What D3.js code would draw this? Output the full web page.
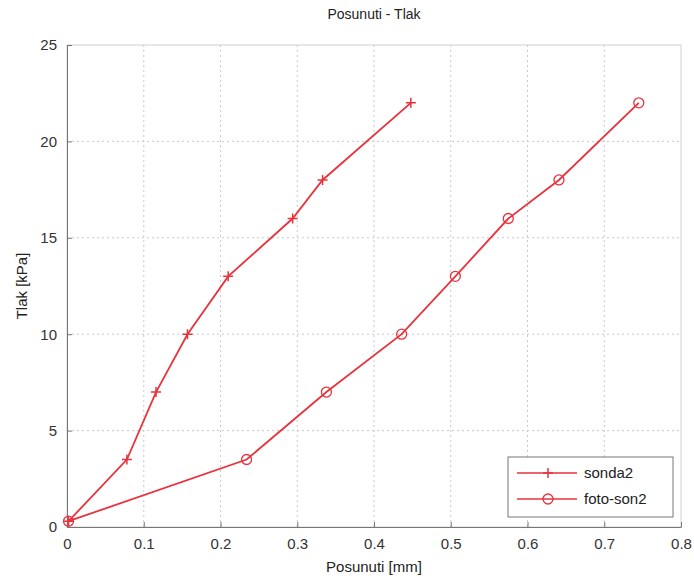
<!DOCTYPE html>
<html>
<head>
<meta charset="utf-8">
<script src="https://cdn.jsdelivr.net/npm/d3@7"></script>
<style>
  body { margin: 0; background: #fff; }
  svg { display: block; font-family: "Liberation Sans", Arial, sans-serif; }
</style>
</head>
<body>
<div id="chart"></div>
<script>
// Data
const pressure = [0.3, 3.5, 7, 10, 13, 16, 18, 22];
const sonda2 = [0.002, 0.078, 0.116, 0.157, 0.210, 0.294, 0.333, 0.448];
const fotoSon2 = [0.002, 0.234, 0.338, 0.436, 0.506, 0.575, 0.641, 0.745];
const xTicks = [0, 0.1, 0.2, 0.3, 0.4, 0.5, 0.6, 0.7, 0.8];
const yTicks = [0, 5, 10, 15, 20, 25];

const W = 694, H = 576;
const margin = {top: 45, right: 13, bottom: 49, left: 67};
const width = W - margin.left - margin.right;
const height = H - margin.top - margin.bottom;
const red = "#e8323c";

const svg = d3.select("#chart").append("svg")
    .attr("width", W)
    .attr("height", H);

const g = svg.append("g")
    .attr("transform", `translate(${margin.left},${margin.top})`);

const x = d3.scaleLinear().domain([0, 0.8]).range([0, width]);
const y = d3.scaleLinear().domain([0, 25]).range([height, 0]);

// Grid
g.append("g")
    .selectAll("line")
    .data(xTicks.slice(1, -1))
    .enter().append("line")
    .attr("x1", d => x(d)).attr("x2", d => x(d))
    .attr("y1", 0).attr("y2", height)
    .attr("stroke", "#c8c8c8")
    .attr("stroke-dasharray", "2,3");

g.append("g")
    .selectAll("line")
    .data(yTicks.slice(1, -1))
    .enter().append("line")
    .attr("x1", 0).attr("x2", width)
    .attr("y1", d => y(d)).attr("y2", d => y(d))
    .attr("stroke", "#c8c8c8")
    .attr("stroke-dasharray", "2,3");

// Frame
g.append("rect")
    .attr("width", width)
    .attr("height", height)
    .attr("fill", "none")
    .attr("stroke", "#d0d0d0");

// Axes
const xAxis = g.append("g")
    .attr("transform", `translate(0,${height})`)
    .call(d3.axisBottom(x).tickValues(xTicks).tickSizeInner(-5).tickSizeOuter(0)
        .tickFormat(d => d === 0 ? "0" : d3.format(".1f")(d)).tickPadding(11));

const yAxis = g.append("g")
    .call(d3.axisLeft(y).tickValues(yTicks).tickSizeInner(-5).tickSizeOuter(0).tickPadding(10));

[xAxis, yAxis].forEach(a => {
    a.select(".domain").attr("stroke", "#777");
    a.selectAll(".tick line").attr("stroke", "#777");
    a.selectAll("text").attr("fill", "#333").style("font-size", "15px");
});

// Lines
const series = [
    {name: "sonda2", xs: sonda2, marker: "plus"},
    {name: "foto-son2", xs: fotoSon2, marker: "circle"}
];

const line = d3.line()
    .x(d => x(d[0]))
    .y(d => y(d[1]));

function drawMarker(sel, type, cx, cy) {
    if (type === "plus") {
        sel.append("path")
            .attr("d", `M${cx - 5},${cy}H${cx + 5}M${cx},${cy - 5}V${cy + 5}`)
            .attr("stroke", red)
            .attr("stroke-width", 1.5)
            .attr("fill", "none");
    } else {
        sel.append("circle")
            .attr("cx", cx).attr("cy", cy).attr("r", 5)
            .attr("stroke", red)
            .attr("stroke-width", 1.3)
            .attr("fill", "none");
    }
}

series.forEach(s => {
    const pts = s.xs.map((v, i) => [v, pressure[i]]);
    g.append("path")
        .datum(pts)
        .attr("fill", "none")
        .attr("stroke", red)
        .attr("stroke-width", 1.8)
        .attr("d", line);
    const mg = g.append("g");
    pts.forEach(p => drawMarker(mg, s.marker, x(p[0]), y(p[1])));
});

// Title and axis labels
svg.append("text")
    .attr("x", margin.left + width / 2)
    .attr("y", 19)
    .attr("text-anchor", "middle")
    .style("font-size", "14px")
    .attr("fill", "#222")
    .text("Posunuti - Tlak");

svg.append("text")
    .attr("x", margin.left + width / 2)
    .attr("y", 572)
    .attr("text-anchor", "middle")
    .style("font-size", "15px")
    .attr("fill", "#222")
    .text("Posunuti [mm]");

svg.append("text")
    .attr("transform", `translate(27,${margin.top + height / 2}) rotate(-90)`)
    .attr("text-anchor", "middle")
    .style("font-size", "15px")
    .attr("fill", "#222")
    .text("Tlak [kPa]");

// Legend
const legend = svg.append("g").attr("transform", "translate(508,457)");
legend.append("rect")
    .attr("width", 165)
    .attr("height", 60)
    .attr("fill", "#fff")
    .attr("stroke", "#777");

series.forEach((s, i) => {
    const ly = 16 + i * 26;
    legend.append("line")
        .attr("x1", 9).attr("x2", 69)
        .attr("y1", ly).attr("y2", ly)
        .attr("stroke", red)
        .attr("stroke-width", 1.6);
    drawMarker(legend, s.marker, 40, ly);
    legend.append("text")
        .attr("x", 76)
        .attr("y", ly + 5)
        .style("font-size", "15px")
        .attr("fill", "#222")
        .text(s.name);
});
</script>
</body>
</html>
